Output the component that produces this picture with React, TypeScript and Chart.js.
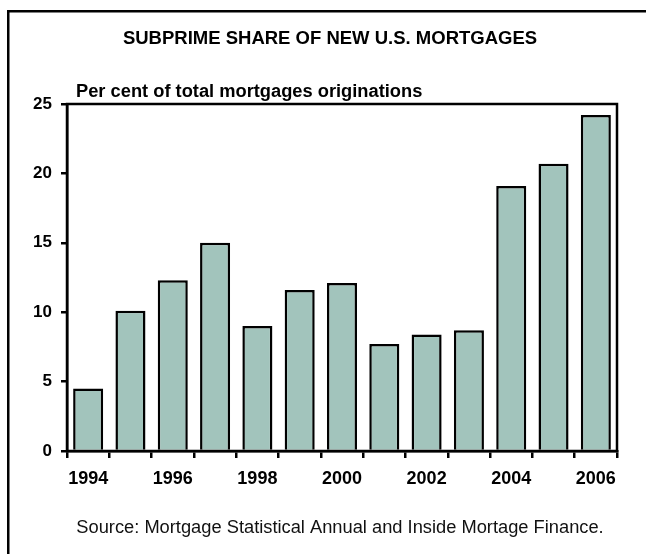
import React, { useEffect, useRef } from "react";
import { Chart, registerables } from "chart.js";

Chart.register(...registerables);

const years: string[] = ["1994", "1995", "1996", "1997", "1998", "1999", "2000", "2001", "2002", "2003", "2004", "2005", "2006"];
const subprimeShare: number[] = [4.5, 10.1, 12.3, 15.0, 9.0, 11.6, 12.1, 7.7, 8.4, 8.7, 19.1, 20.7, 24.2];
const yTicks: number[] = [0, 5, 10, 15, 20, 25];

const titleText = "SUBPRIME SHARE OF NEW U.S. MORTGAGES";
const subtitleText = "Per cent of total mortgages originations";
const sourceText = "Source: Mortgage Statistical Annual and Inside Mortage Finance.";

const FONT = "'Liberation Sans', Arial, Helvetica, sans-serif";
const BAR_COLOR = "#a2c4bc";

const decorPlugin = {
  id: "decor",
  beforeDraw(chart: any) {
    const ctx = chart.ctx;
    ctx.save();
    ctx.fillStyle = "#fff";
    ctx.fillRect(0, 0, chart.width, chart.height);
    ctx.fillStyle = "#000";
    ctx.fillRect(7, 10, chart.width - 7, 2.5);
    ctx.fillRect(7, 10, 2.5, chart.height - 10);
    ctx.restore();
  },
  afterDraw(chart: any) {
    const ctx = chart.ctx;
    const a = chart.chartArea;
    ctx.save();
    ctx.strokeStyle = "#000";
    ctx.lineWidth = 2.5;
    ctx.strokeRect(a.left, a.top, a.right - a.left, a.bottom - a.top);
    ctx.fillStyle = "#000";
    ctx.textBaseline = "alphabetic";
    ctx.font = `bold 18.5px ${FONT}`;
    ctx.textAlign = "center";
    ctx.fillText(titleText, 330, 44);
    ctx.font = `bold 18.3px ${FONT}`;
    ctx.textAlign = "left";
    ctx.fillText(subtitleText, 76, 97);
    ctx.font = `18.3px ${FONT}`;
    ctx.textAlign = "center";
    ctx.fillStyle = "#111";
    ctx.fillText(sourceText, 340, 533);
    ctx.restore();
  },
};

export default function App() {
  const ref = useRef<HTMLCanvasElement | null>(null);
  useEffect(() => {
    if (!ref.current) return;
    const chart = new Chart(ref.current, {
      type: "bar",
      data: {
        labels: years,
        datasets: [
          {
            data: subprimeShare,
            backgroundColor: BAR_COLOR,
            borderColor: "#000",
            borderWidth: 2.5,
            barPercentage: 0.71,
            categoryPercentage: 1,
          },
        ],
      },
      options: {
        responsive: false,
        animation: false,
        devicePixelRatio: 1,
        layout: { padding: { left: 0, right: 29, top: 104, bottom: 53 } },
        plugins: {
          legend: { display: false },
          title: { display: false },
          tooltip: { enabled: false },
        },
        scales: {
          x: {
            type: "category",
            grid: {
              offset: true,
              drawOnChartArea: false,
              drawTicks: true,
              tickLength: 7,
              color: "#000",
              lineWidth: 2.5,
            },
            border: { display: true, color: "#000", width: 2.5 },
            ticks: {
              autoSkip: false,
              maxRotation: 0,
              minRotation: 0,
              padding: 10,
              color: "#000",
              font: { family: FONT, size: 18, weight: "bold" },
              callback: (_v: any, i: number) => (i % 2 === 0 ? years[i] : ""),
            },
            afterFit: (s: any) => {
              s.height = 50;
            },
          },
          y: {
            min: 0,
            max: 25,
            afterBuildTicks: (s: any) => {
              s.ticks = yTicks.map((v) => ({ value: v }));
            },
            grid: {
              drawOnChartArea: false,
              drawTicks: true,
              tickLength: 6,
              color: "#000",
              lineWidth: 2.5,
            },
            border: { display: true, color: "#000", width: 2.5 },
            ticks: {
              padding: 9,
              color: "#000",
              font: { family: FONT, size: 17, weight: "bold" },
            },
            afterFit: (s: any) => {
              s.width = 67;
            },
          },
        },
      },
      plugins: [decorPlugin],
    });
    return () => chart.destroy();
  }, []);
  return (
    <div style={{ position: "absolute", left: 0, top: 0, width: 646, height: 554 }}>
      <canvas ref={ref} width={646} height={554} />
    </div>
  );
}
